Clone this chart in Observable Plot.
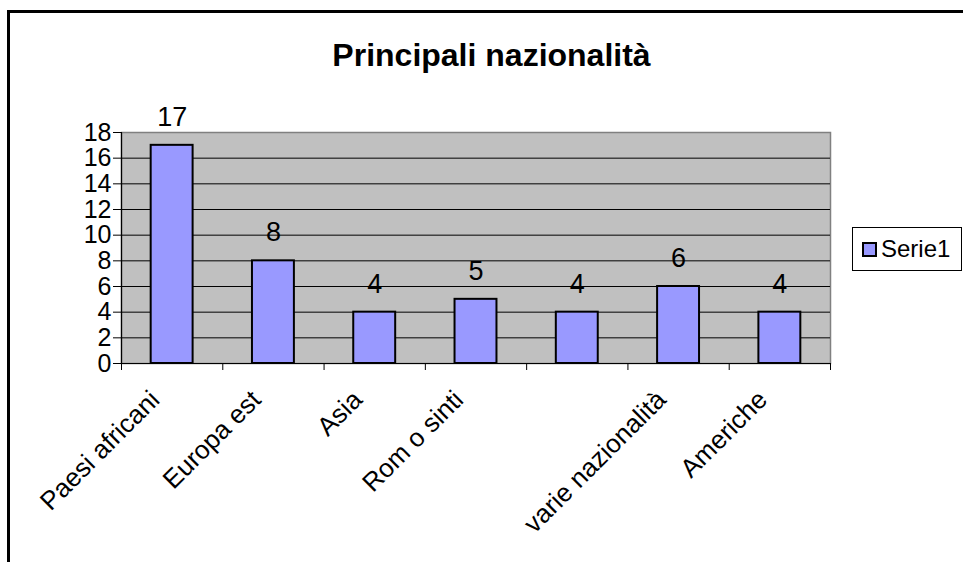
<!DOCTYPE html>
<html><head><meta charset="utf-8">
<script src="https://cdn.jsdelivr.net/npm/d3@7"></script>
<script src="https://cdn.jsdelivr.net/npm/@observablehq/plot@0.6"></script>
<style>
body{margin:0;background:#fff;font-family:"Liberation Sans",Arial,sans-serif;}
#wrap{position:relative;width:963px;height:562px;overflow:hidden;background:#fff;}
#border{position:absolute;left:7px;top:10px;width:1000px;height:600px;border:3px solid #000;box-sizing:border-box;}
#title{position:absolute;left:0;top:36px;width:983px;text-align:center;font-weight:bold;font-size:32px;line-height:38px;}
#chart{position:absolute;left:0;top:100px;}
#legend{position:absolute;left:852px;top:227px;width:110px;height:44px;border:1px solid #000;box-sizing:border-box;background:#fff;}
#legend .sw{position:absolute;left:9px;top:14px;width:15px;height:15px;background:#9999FF;border:2px solid #000;box-sizing:border-box;}
#legend .lt{position:absolute;left:28px;top:7px;font-size:24px;line-height:27px;}
</style></head>
<body>
<div id="wrap">
  <div id="border"></div>
  <div id="title">Principali nazionalità</div>
  <div id="chart"></div>
  <div id="legend"><div class="sw"></div><div class="lt" id="legtext"></div></div>
</div>
<script>
const categories = ["Paesi africani", "Europa est", "Asia", "Rom o sinti", "", "varie nazionalità", "Americhe"];
const values = [17, 8, 4, 5, 4, 6, 4];
const yTicks = [0, 2, 4, 6, 8, 10, 12, 14, 16, 18];
const seriesName = "Serie1";

document.getElementById("legtext").textContent = seriesName;

const data = categories.map((c, i) => ({i, c, v: values[i]}));
const half = 0.207;

const chart = Plot.plot({
  width: 963,
  height: 462,
  marginLeft: 121,
  marginRight: 133,
  marginTop: 32,
  marginBottom: 199,
  x: {type: "linear", domain: [0, categories.length], axis: null},
  y: {domain: [0, 18], axis: null},
  style: {fontFamily: "Liberation Sans, Arial, sans-serif", color: "#000", background: "transparent", overflow: "visible"},
  marks: [
    Plot.frame({fill: "#C0C0C0", stroke: "#808080", strokeWidth: 1.5}),
    Plot.gridY(yTicks.filter(t => t > 0 && t < 18), {stroke: "#000", strokeOpacity: 1}),
    Plot.rectY(data, {x1: d => d.i + 0.5 - half, x2: d => d.i + 0.5 + half, y1: 0, y2: "v", fill: "#9999FF", stroke: "#000", strokeWidth: 2}),
    Plot.text(data, {x: d => d.i + 0.5, y: "v", text: d => String(d.v), dy: -28, fontSize: 27, fill: "#000"}),
    Plot.ruleX([0], {stroke: "#000", strokeWidth: 1.2}),
    Plot.ruleY([0], {stroke: "#000", strokeWidth: 1.2}),
    Plot.axisY({ticks: yTicks, tickSize: 8, tickPadding: 2, fontSize: 25, label: null, stroke: "#000"}),
    Plot.axisX({ticks: d3.range(0, categories.length + 1), tickSize: 7, tickFormat: () => "", label: null}),
    Plot.axisX({ticks: d3.range(0, categories.length).map(i => i + 0.5), tickSize: 0, tickPadding: 32, dx: -17, tickRotate: -45,
      tickFormat: t => categories[Math.round(t - 0.5)], fontSize: 26, label: null})
  ]
});
document.getElementById("chart").appendChild(chart);
</script>
</body></html>
